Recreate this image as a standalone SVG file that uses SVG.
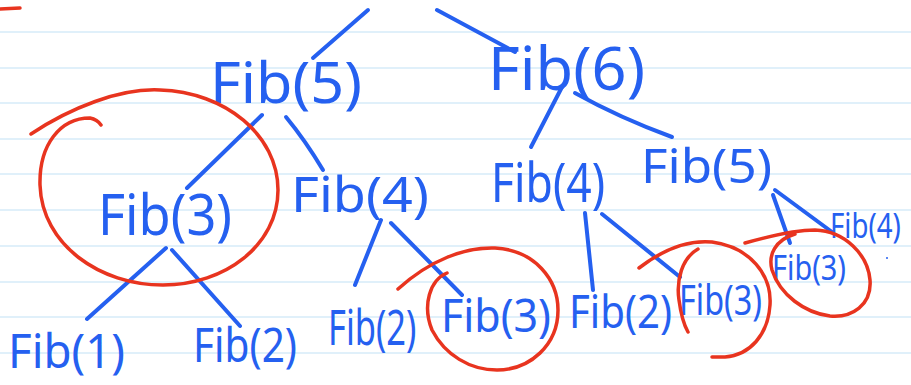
<svg xmlns="http://www.w3.org/2000/svg" width="911" height="385" viewBox="0 0 911 385">
<style>
.rule{stroke:#d6ebf9;stroke-width:1.6}
.t{font-family:"Noto Sans","DejaVu Sans",sans-serif;fill:#2560f0}
.e{fill:none;stroke:#2560f0;stroke-width:4;stroke-linecap:round;stroke-linejoin:round}
.r{fill:none;stroke:#e8341f;stroke-width:3.5;stroke-linecap:round;stroke-linejoin:round}
</style>
<rect width="911" height="385" fill="#ffffff"/>
<g id="rules">
<line class="rule" x1="0" y1="32" x2="911" y2="32"/>
<line class="rule" x1="0" y1="68" x2="911" y2="68"/>
<line class="rule" x1="0" y1="103" x2="911" y2="103"/>
<line class="rule" x1="0" y1="139" x2="911" y2="139"/>
<line class="rule" x1="0" y1="174" x2="911" y2="174"/>
<line class="rule" x1="0" y1="210" x2="911" y2="210"/>
<line class="rule" x1="0" y1="246" x2="911" y2="246"/>
<line class="rule" x1="0" y1="282" x2="911" y2="282"/>
<line class="rule" x1="0" y1="317" x2="911" y2="317"/>
<line class="rule" x1="0" y1="353" x2="911" y2="353"/>
</g>
<g id="connectors">
<path class="e" d="M368,10 L313,58"/>
<path class="e" d="M437,10 L515,52"/>
<path class="e" d="M262,115 L187,188"/>
<path class="e" d="M286,117 Q305,140 323,170"/>
<path class="e" d="M562,87 L531,147"/>
<path class="e" d="M575,93 Q620,118 672,137"/>
<path class="e" d="M166,248 L87,319"/>
<path class="e" d="M172,250 L240,326"/>
<path class="e" d="M381,220 L355,285"/>
<path class="e" d="M391,223 L462,295"/>
<path class="e" d="M585,213 L593,290"/>
<path class="e" d="M602,214 L680,277"/>
<path class="e" d="M773,195 L790,243"/>
<path class="e" d="M775,190 L832,232"/>
</g>
<g id="n-fib6"><text class="t" x="488" y="90" font-size="60" textLength="157" lengthAdjust="spacingAndGlyphs">Fib(6)</text></g>
<g id="n-fib5a"><text class="t" x="210" y="103" font-size="57" textLength="152" lengthAdjust="spacingAndGlyphs">Fib(5)</text></g>
<g id="n-fib4a"><text class="t" x="491" y="202" font-size="54" textLength="114" lengthAdjust="spacingAndGlyphs">Fib(4)</text></g>
<g id="n-fib5b"><text class="t" x="641" y="183" font-size="48" textLength="131" lengthAdjust="spacingAndGlyphs">Fib(5)</text></g>
<g id="n-fib3a"><text class="t" x="98" y="235" font-size="56" textLength="134" lengthAdjust="spacingAndGlyphs">Fib(3)</text></g>
<g id="n-fib4b"><text class="t" x="291" y="212" font-size="50" textLength="138" lengthAdjust="spacingAndGlyphs">Fib(4)</text></g>
<g id="n-fib4c"><text class="t" font-size="35" transform="translate(830,238) scale(0.79,1)">Fib(4)</text></g>
<g id="n-fib1"><text class="t" x="8" y="368" font-size="47" textLength="117" lengthAdjust="spacingAndGlyphs">Fib(1)</text></g>
<g id="n-fib2a"><text class="t" x="193" y="362" font-size="48" textLength="104" lengthAdjust="spacingAndGlyphs">Fib(2)</text></g>
<g id="n-fib2b"><text class="t" font-size="50" transform="translate(328,345) scale(0.69,1)">Fib(2)</text></g>
<g id="n-fib3b"><text class="t" x="441" y="332" font-size="46" textLength="110" lengthAdjust="spacingAndGlyphs">Fib(3)</text></g>
<g id="n-fib2c"><text class="t" x="569" y="328" font-size="46" textLength="103" lengthAdjust="spacingAndGlyphs">Fib(2)</text></g>
<g id="n-fib3c"><text class="t" x="679" y="315" font-size="42" textLength="83" lengthAdjust="spacingAndGlyphs">Fib(3)</text></g>
<g id="n-fib3d"><text class="t" x="772" y="280" font-size="34" textLength="74" lengthAdjust="spacingAndGlyphs">Fib(3)</text></g>
<g id="marks">
<path class="r" d="M0,9 L20,8"/>
<path class="r" d="M31,134 C70,108 120,88 160,90 C225,92 278,135 278,190 C278,245 225,285 163,285 C100,285 42,245 40,185 C39,145 60,118 90,118 C95,119 99,122 101,125"/>
<path class="r" d="M398,289 C430,260 465,247 495,248 C535,250 558,280 558,310 C558,345 530,370 497,370 C470,370 445,355 432,330 C422,305 430,280 447,273"/>
<path class="r" d="M639,268 C665,248 690,240 712,242 C750,247 772,275 770,305 C768,335 750,355 725,357 L712,357"/>
<path class="r" d="M698,249 C682,258 676,280 679,300 C681,315 684,325 688,332"/>
<path class="r" d="M745,243 C770,236 795,230 815,230 C845,231 868,255 870,280 C872,305 852,318 830,316 C805,313 780,295 772,270 C768,255 775,240 795,234"/>
<circle cx="887" cy="258" r="1" fill="#2560f0"/>
</g>
</svg>
